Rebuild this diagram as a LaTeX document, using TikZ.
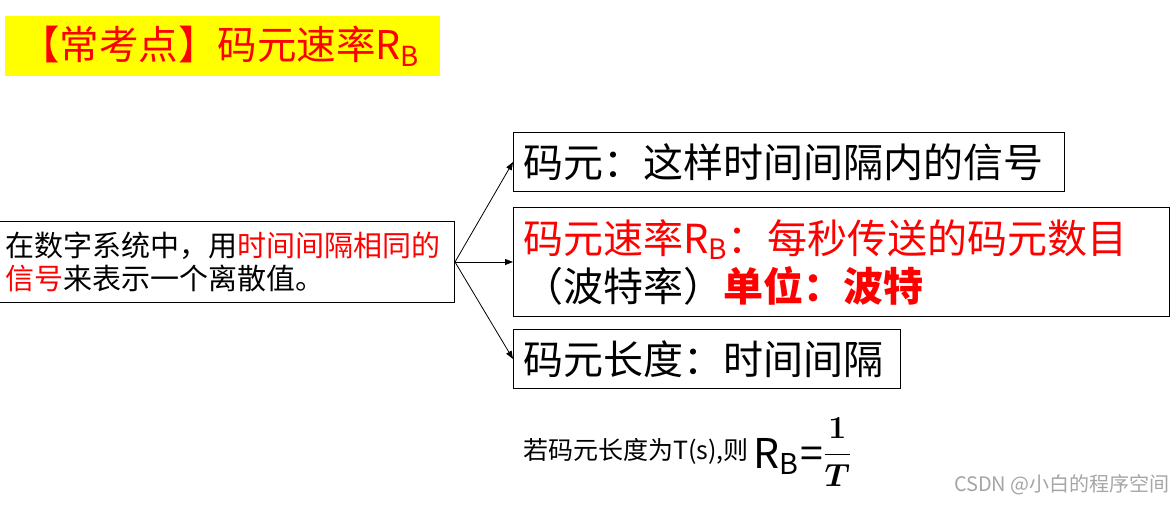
\documentclass[tikz,border=0pt]{standalone}
\usepackage{fix-cm}
\usepackage{amsmath}
\usepackage{fontspec}
\setmainfont{Noto Sans CJK SC}
\usetikzlibrary{positioning,arrows.meta}
\definecolor{keyred}{RGB}{255,0,0}
\definecolor{markyellow}{RGB}{255,255,0}
\definecolor{wmgray}{RGB}{165,165,165}
\tikzset{
  cellbox/.style={draw=black,line width=1pt,inner ysep=0pt,inner xsep=10pt,align=left},
  bigtext/.style={font=\fontsize{40}{48}\selectfont},
  linkarrow/.style={draw=black,line width=0.8pt,-{Triangle[length=8pt,width=6pt]}},
}
\newcommand{\rbsym}{R\textsubscript{B}}
\begin{document}
\begin{tikzpicture}[x=1pt,y=-1pt]
  \useasboundingbox (0,0) rectangle (1176,506);
  \node[fill=markyellow,anchor=north west,minimum width=435,minimum height=60,
        inner xsep=15pt,text width=405,align=left,text=keyred,
        font=\fontsize{39.5}{39.5}\selectfont] (titlebar) at (5,16) {【常考点】码元速率\rbsym};
  \node[cellbox,anchor=north west,minimum height=81,text width=439,
        font=\fontsize{29}{33}\selectfont] (defbox) at (-5,221)
        {在数字系统中，用\textcolor{keyred}{时间间隔相同的}\\
         \textcolor{keyred}{信号}来表示一个离散值。};
  \node[cellbox,bigtext,anchor=north west,minimum height=59,text width=531] (symbox) at (513,132)
        {码元：这样时间间隔内的信号};
  \node[cellbox,bigtext,anchor=north west,minimum height=109,text width=636] (ratebox) at (513,207)
        {\textcolor{keyred}{码元速率\rbsym：每秒传送的码元数目}\\
         （波特率）\textcolor{keyred}{\bfseries 单位：波特}};
  \node[cellbox,bigtext,anchor=north west,minimum height=59,text width=367] (lenbox) at (513,329)
        {码元长度：时间间隔};
  \draw[linkarrow] (defbox.east) -- (symbox.west);
  \draw[linkarrow] (defbox.east) -- (ratebox.west);
  \draw[linkarrow] (defbox.east) -- (lenbox.west);
  \node[anchor=base west,inner sep=0pt,font=\fontsize{25}{25}\selectfont] (condtext) at (523,459)
        {若码元长度为T(s),则};
  \node[anchor=base west,inner sep=0pt,font=\fontsize{41}{41}\selectfont] (formula) at (753,468)
        {\rbsym\kern2pt=\fontsize{32}{32}\selectfont\raisebox{6pt}{$\boldsymbol{\dfrac{1}{T}}$}};
  \node[anchor=base east,inner sep=0pt,text=wmgray,font=\fontsize{20}{20}\selectfont] (mark) at (1170,491)
        {CSDN @小白的程序空间};
\end{tikzpicture}
\end{document}
